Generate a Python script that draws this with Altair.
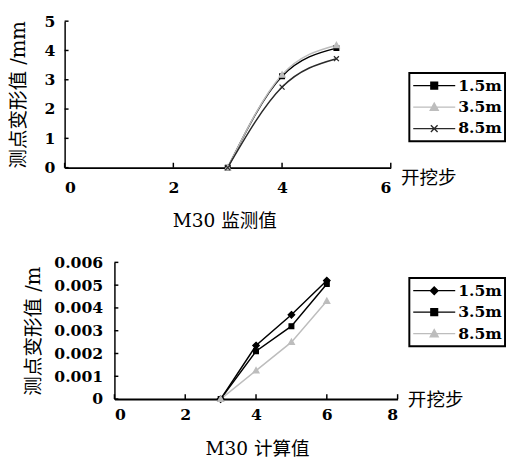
import altair as alt
import pandas as pd

# ---------------- data ----------------
series = ["1.5m", "3.5m", "8.5m"]

top_steps = [3, 4, 5]
top_15 = [0.0, 3.12, 4.08]
top_35 = [0.0, 3.17, 4.18]
top_85 = [0.0, 2.75, 3.72]

bot_steps = [3, 4, 5, 6]
bot_15 = [0.0, 0.00235, 0.0037, 0.0052]
bot_35 = [0.0, 0.0021, 0.0032, 0.00505]
bot_85 = [0.0, 0.00125, 0.0025, 0.0043]

top_xticks = [0, 2, 4, 6]
top_yticks = [0, 1, 2, 3, 4, 5]
bot_xticks = [0, 2, 4, 6, 8]
bot_yticks = [0, 0.001, 0.002, 0.003, 0.004, 0.005, 0.006]

top_title = "M30 监测值"
bot_title = "M30 计算值"
x_title = "开挖步"
top_ytitle = "测点变形值 /mm"
bot_ytitle = "测点变形值 /m"

# ---------------- styling ----------------
BLACK = "#000000"
GRAY = "#bdbdbd"
DARK = "#2a2a2a"
NUM_FONT = "DejaVu Serif"
CJK_FONT = "DejaVu Serif, Noto Sans CJK SC"

SQUARE = "M-0.8,-0.8H0.8V0.8H-0.8Z"
TRI = "M0,-1L1,0.8H-1Z"
XMARK = "M-0.85,-0.85L0.85,0.85M-0.85,0.85L0.85,-0.85"
DIAMOND = "M0,-1.1L1.1,0L0,1.1L-1.1,0Z"

LSQUARE = "M-1,0H1M-0.16,-0.16H0.16V0.16H-0.16Z"
LTRI = "M-1,0H1M0,-0.19L0.19,0.15H-0.19Z"
LX = "M-1,0H1M-0.16,-0.16L0.16,0.16M-0.16,0.16L0.16,-0.16"
LDIAMOND = "M-1,0H1M0,-0.18L0.18,0L0,0.18L-0.18,0Z"


def make_df(xs, ys_list):
    rows = []
    for s, ys in zip(series, ys_list):
        for x, y in zip(xs, ys):
            rows.append({"step": x, "val": y, "series": s})
    return pd.DataFrame(rows)


def panel(df, xticks, yticks, xdomain, ydomain, xrange_, width, height,
          line_colors, marker_paths, legend_paths, fill_colors, interp,
          ytitle, yfmt, ylabpad, xlabpad, ytitlepad, xtitle_y, legend_xy,
          title_text, title_dx, title_offset, axis_pos):
    xscale = alt.Scale(domain=xdomain, range=xrange_, nice=False, zero=False)
    yscale = alt.Scale(domain=ydomain, nice=False)
    xaxis = alt.Axis(values=xticks, format="d", ticks=False, grid=False,
                     labelPadding=xlabpad, title=x_title, titleX=xrange_[1] + 10,
                     titleY=xtitle_y, titleAlign="left", titleBaseline="middle",
                     titleAngle=0, domainWidth=2)
    yaxis = alt.Axis(values=yticks, format=yfmt, ticks=False, grid=False,
                     labelPadding=ylabpad, title=ytitle, titlePadding=ytitlepad,
                     domainWidth=1.5, offset=-axis_pos)
    x = alt.X("step:Q", scale=xscale, axis=xaxis)
    y = alt.Y("val:Q", scale=yscale, axis=yaxis)

    base = alt.Chart(df)
    lines = base.mark_line(interpolate=interp, strokeWidth=1.5).encode(
        x=x, y=y,
        color=alt.Color("series:N", scale=alt.Scale(domain=series, range=line_colors), legend=None),
    )
    pts = base.mark_point(size=36, strokeWidth=1.3, opacity=1).encode(
        x=x, y=y,
        fill=alt.Fill("series:N", scale=alt.Scale(domain=series, range=fill_colors), legend=None),
        stroke=alt.Stroke("series:N", scale=alt.Scale(domain=series, range=line_colors), legend=None),
        shape=alt.Shape("series:N", scale=alt.Scale(domain=series, range=marker_paths), legend=None),
    )
    leg = alt.Legend(title=None, orient="none", legendX=legend_xy[0], legendY=legend_xy[1],
                     strokeColor=BLACK, fillColor="white", padding=3,
                     labelFont=NUM_FONT, labelFontSize=16, labelFontWeight="bold",
                     labelColor=BLACK, labelOffset=2, symbolStrokeWidth=1.4,
                     symbolSize=1849, clipHeight=20, rowPadding=2, symbolOpacity=1)
    legend_layer = base.transform_calculate(lg="datum.series").transform_filter("false").mark_point(
        size=1849, strokeWidth=1.4, opacity=1
    ).encode(
        x=x, y=y,
        fill=alt.Fill("lg:N", scale=alt.Scale(domain=series, range=fill_colors), legend=leg),
        stroke=alt.Stroke("lg:N", scale=alt.Scale(domain=series, range=line_colors), legend=leg),
        shape=alt.Shape("lg:N", scale=alt.Scale(domain=series, range=legend_paths), legend=leg),
    )
    xt = alt.Chart(pd.DataFrame({"t": xticks})).mark_rule(color=BLACK, strokeWidth=1.5).encode(
        x=alt.X("t:Q", scale=xscale, axis=xaxis),
        y=alt.value(height), y2=alt.value(height - 5),
    )
    yt = alt.Chart(pd.DataFrame({"t": yticks})).mark_rule(color=BLACK, strokeWidth=1.5).encode(
        y=alt.Y("t:Q", scale=yscale, axis=yaxis),
        x=alt.value(axis_pos), x2=alt.value(axis_pos + 4),
    )
    ch = alt.layer(lines, pts, legend_layer, xt, yt).resolve_scale(
        fill="independent", stroke="independent", shape="independent"
    ).properties(
        width=width, height=height,
        title=alt.TitleParams(title_text, orient="bottom", anchor="middle", frame="group",
                              dx=title_dx, offset=title_offset, font=CJK_FONT, fontSize=19,
                              fontWeight="normal", color=BLACK),
    )
    return ch


top = panel(
    make_df(top_steps, [top_15, top_35, top_85]),
    top_xticks, top_yticks, [0, 6], [0, 5], [0, 334], 334, 150,
    [BLACK, GRAY, DARK], [SQUARE, TRI, XMARK], [LSQUARE, LTRI, LX], [BLACK, GRAY, DARK],
    "monotone", top_ytitle, "d", 10, 12, 16, 10, (353, 53),
    top_title, -3, 18, 0,
)

bottom = panel(
    make_df(bot_steps, [bot_15, bot_35, bot_85]),
    bot_xticks, bot_yticks, [0, 8], [0, 0.006], [51, 341], 341, 140,
    [BLACK, BLACK, GRAY], [DIAMOND, SQUARE, TRI], [LDIAMOND, LSQUARE, LTRI], [BLACK, BLACK, GRAY],
    "linear", bot_ytitle, ".3~f", 12, 8, 11, 1, (353, 16),
    bot_title, 27, 18, 51,
)

chart = alt.vconcat(top, bottom, spacing=24).resolve_scale(
    color="independent", fill="independent", stroke="independent", shape="independent"
).properties(padding=0).configure_view(stroke=None).configure_axis(
    domainColor=BLACK, labelColor=BLACK, labelFont=NUM_FONT, labelFontSize=16,
    labelFontWeight="bold", titleFont=CJK_FONT, titleFontSize=20, titleFontWeight="normal",
    titleColor=BLACK,
).configure_axisX(titleFontSize=19).configure_legend(strokeWidth=2)

chart.save("out.html", embed_options={"renderer": "svg", "actions": False})
